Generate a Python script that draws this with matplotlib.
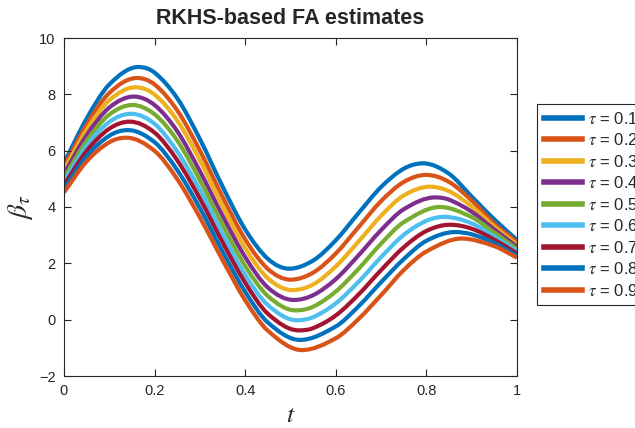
import matplotlib
matplotlib.use('Agg')
import matplotlib.pyplot as plt
from matplotlib.path import Path
from matplotlib.patches import PathPatch
from matplotlib.lines import Line2D

plt.rcParams['font.family'] = ['Liberation Sans', 'DejaVu Sans']
plt.rcParams['mathtext.fontset'] = 'stix'

# values
T = [0.00, 0.05, 0.10, 0.15, 0.20, 0.25, 0.30, 0.35, 0.40, 0.45, 0.50,
     0.55, 0.60, 0.65, 0.70, 0.75, 0.80, 0.85, 0.90, 0.95, 1.00]

TAUS = [0.1, 0.2, 0.3, 0.4, 0.5, 0.6, 0.7, 0.8, 0.9]

BETA = [
    [5.56, 7.14, 8.35, 8.94, 8.77, 7.86, 6.41, 4.73, 3.20, 2.16, 1.81, 2.10, 2.82, 3.78, 4.71, 5.36, 5.55, 5.18, 4.37, 3.56, 2.83],
    [5.43, 6.92, 8.05, 8.56, 8.35, 7.43, 6.00, 4.36, 2.85, 1.80, 1.42, 1.67, 2.35, 3.28, 4.21, 4.89, 5.14, 4.89, 4.23, 3.41, 2.75],
    [5.30, 6.74, 7.79, 8.24, 7.99, 7.07, 5.66, 4.03, 2.54, 1.47, 1.05, 1.25, 1.89, 2.77, 3.69, 4.41, 4.71, 4.56, 4.02, 3.30, 2.67],
    [5.17, 6.55, 7.53, 7.92, 7.62, 6.69, 5.27, 3.69, 2.22, 1.14, 0.71, 0.87, 1.44, 2.28, 3.18, 3.92, 4.31, 4.26, 3.83, 3.20, 2.59],
    [5.04, 6.35, 7.28, 7.62, 7.29, 6.36, 4.95, 3.37, 1.90, 0.84, 0.35, 0.46, 1.00, 1.80, 2.70, 3.46, 3.92, 3.97, 3.64, 3.09, 2.51],
    [4.91, 6.17, 7.02, 7.31, 6.95, 5.97, 4.61, 3.05, 1.59, 0.52, 0.00, 0.09, 0.58, 1.34, 2.22, 3.01, 3.51, 3.64, 3.42, 2.95, 2.43],
    [4.78, 5.99, 6.78, 7.03, 6.64, 5.66, 4.30, 2.75, 1.31, 0.21, -0.34, -0.30, 0.15, 0.89, 1.76, 2.57, 3.15, 3.37, 3.23, 2.84, 2.35],
    [4.65, 5.80, 6.53, 6.72, 6.30, 5.31, 3.96, 2.42, 0.99, -0.10, -0.66, -0.65, -0.24, 0.47, 1.33, 2.15, 2.80, 3.10, 3.03, 2.72, 2.27],
    [4.52, 5.62, 6.30, 6.44, 5.99, 4.99, 3.63, 2.12, 0.69, -0.39, -1.00, -1.03, -0.66, 0.02, 0.87, 1.76, 2.42, 2.82, 2.85, 2.61, 2.20],
]

# turning points of each curve (first peak, trough, second peak)
PEAK1_T = [0.164, 0.161, 0.158, 0.154, 0.151, 0.148, 0.145, 0.141, 0.138]
PEAK1_V = [8.97, 8.58, 8.25, 7.92, 7.62, 7.31, 7.03, 6.73, 6.46]
TROUGH_T = [0.497, 0.500, 0.504, 0.507, 0.511, 0.514, 0.518, 0.521, 0.525]
TROUGH_V = [1.81, 1.42, 1.05, 0.70, 0.33, -0.02, -0.38, -0.72, -1.08]
PEAK2_T = [0.793, 0.800, 0.808, 0.819, 0.830, 0.840, 0.852, 0.863, 0.878]
PEAK2_V = [5.55, 5.14, 4.72, 4.34, 4.00, 3.65, 3.37, 3.11, 2.88]

COLORS = ['#0072BD', '#D95319', '#EDB120', '#7E2F8E', '#77AC30',
          '#4DBEEE', '#A2142F', '#0072BD', '#D95319']


def smooth_path(xs, ys, flat):
    # cubic Hermite through the read points, drawn as Bezier segments
    n = len(xs)
    m = []
    for i in range(n):
        if xs[i] in flat:
            m.append(0.0)
        elif i == 0:
            m.append((ys[1] - ys[0]) / (xs[1] - xs[0]))
        elif i == n - 1:
            m.append((ys[-1] - ys[-2]) / (xs[-1] - xs[-2]))
        else:
            m.append((ys[i+1] - ys[i-1]) / (xs[i+1] - xs[i-1]))
    verts = [(xs[0], ys[0])]
    codes = [Path.MOVETO]
    for i in range(n - 1):
        h = xs[i+1] - xs[i]
        verts += [(xs[i] + h/3, ys[i] + m[i]*h/3),
                  (xs[i+1] - h/3, ys[i+1] - m[i+1]*h/3),
                  (xs[i+1], ys[i+1])]
        codes += [Path.CURVE4] * 3
    return Path(verts, codes)


fig = plt.figure(figsize=(6.35, 4.28), dpi=100)
ax = fig.add_axes([64/635, 1 - 376/428, 453/635, 338/428])

handles = []
for i, tau in enumerate(TAUS):
    turn = [(PEAK1_T[i], PEAK1_V[i]), (TROUGH_T[i], TROUGH_V[i]), (PEAK2_T[i], PEAK2_V[i])]
    flat = [p[0] for p in turn]
    pts = [p for p in zip(T, BETA[i]) if min(abs(p[0] - f) for f in flat) > 0.03]
    pts = sorted(pts + turn)
    path = smooth_path([p[0] for p in pts], [p[1] for p in pts], flat)
    ax.add_patch(PathPatch(path, fill=False, edgecolor=COLORS[i], lw=3,
                           capstyle='butt', joinstyle='round'))
    handles.append(Line2D([], [], color=COLORS[i], lw=4,
                          label=r'$\tau$ = %.1f' % tau))

ax.set_xlim(0, 1)
ax.set_ylim(-2, 10)
ax.set_xticks([0, 0.2, 0.4, 0.6, 0.8, 1])
ax.set_xticklabels(['0', '0.2', '0.4', '0.6', '0.8', '1'])
ax.set_yticks([-2, 0, 2, 4, 6, 8, 10])
ax.set_yticklabels(['\u22122', '0', '2', '4', '6', '8', '10'])
ax.tick_params(direction='in', length=5, width=0.8, top=True, right=True,
               labelsize=10.5, colors='#262626', pad=6)
for s in ax.spines.values():
    s.set_color('#262626'); s.set_linewidth(0.8)

ax.set_title('RKHS-based FA estimates', fontsize=15.5, fontweight='bold',
             color='#262626', pad=10)
ax.set_xlabel(r'$t$', fontsize=18, color='#262626', labelpad=3)
ax.set_ylabel(r'$\beta_\tau$', fontsize=20, color='#262626', labelpad=3)

leg = fig.legend(handles=handles, loc='upper left',
                 bbox_to_anchor=(537/635, 1 - 104/428),
                 fontsize=12, frameon=True, fancybox=False, framealpha=1,
                 handlelength=2.3, handletextpad=0.35, labelspacing=0.33,
                 borderpad=0.4, borderaxespad=0)
leg.get_frame().set_edgecolor('#262626')
leg.get_frame().set_linewidth(0.8)
for txt in leg.get_texts():
    txt.set_color('#262626')

fig.savefig('out.png', dpi=100)
